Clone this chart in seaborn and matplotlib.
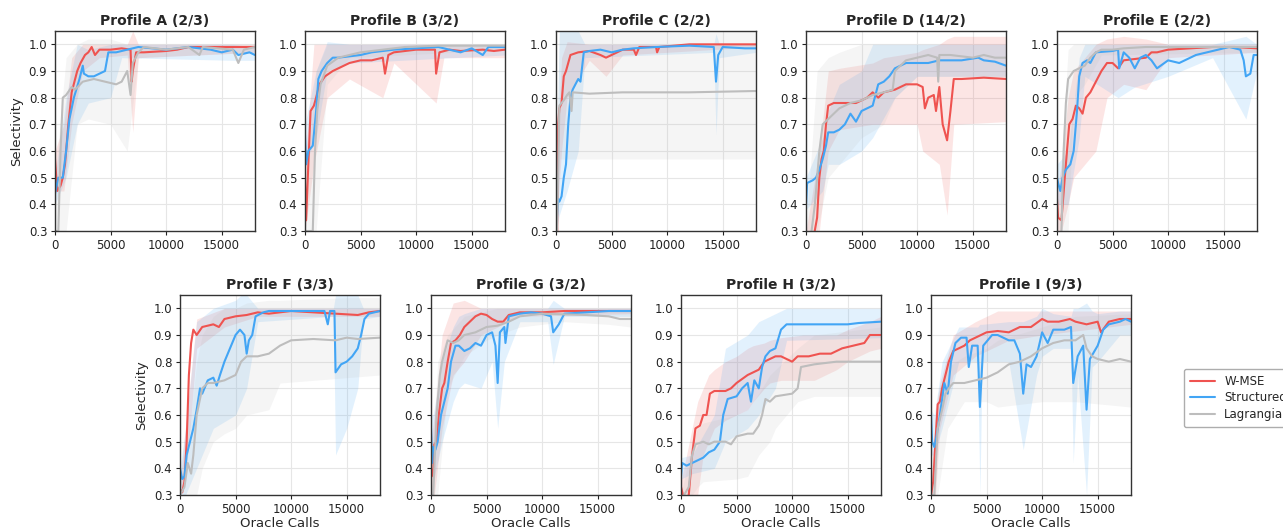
import numpy as np
import pandas as pd
import seaborn as sns
import matplotlib
matplotlib.use("Agg")
import matplotlib.pyplot as plt

# ---- data (x = oracle calls) ----
methods = ["W-MSE", "Structured", "Lagrangian"]
colors = {"W-MSE": "#ef5350", "Structured": "#42a5f5", "Lagrangian": "#bdbdbd"}
titles = ["Profile A (2/3)", "Profile B (3/2)", "Profile C (2/2)", "Profile D (14/2)",
          "Profile E (2/2)", "Profile F (3/3)", "Profile G (3/2)", "Profile H (3/2)",
          "Profile I (9/3)"]
x_ticks = [0, 5000, 10000, 15000]
y_ticks = [0.3, 0.4, 0.5, 0.6, 0.7, 0.8, 0.9, 1.0]

# mean curves: (calls, selectivity); bands: (calls, low, high)
A_WMSE = [(0, .57), (200, .45), (500, .47), (700, .50), (900, .55), (1200, .70), (1500, .82), (2000, .90),
          (2300, .93), (2700, .96), (3000, .97), (3300, .99), (3600, .96), (4000, .98), (5000, .98),
          (6000, .985), (6800, .98), (6900, .86), (7000, .90), (7300, .97), (8000, .97), (10000, .975),
          (11000, .98), (12000, .99), (15000, .99), (18000, .99)]
A_WMSE_BAND = [(0, .45, .60), (800, .45, .70), (1500, .70, .95), (2500, .90, 1.0), (4000, .95, 1.0),
               (6500, .96, 1.0), (7000, .67, 1.05), (7500, .95, 1.0), (18000, .97, 1.0)]
A_STRUCT = [(0, .44), (300, .50), (700, .50), (1000, .60), (1300, .72), (1700, .80), (2200, .87),
            (2500, .92), (2600, .89), (3000, .88), (3500, .88), (4000, .89), (4500, .90), (4800, .97),
            (5500, .97), (6500, .98), (7500, .99), (10000, .98), (12000, .99), (14000, .98), (15000, .97),
            (16000, .98), (16500, .96), (17500, .97), (18000, .96)]
A_STRUCT_BAND = [(0, .40, .50), (1000, .50, .80), (2000, .70, 1.0), (3000, .78, .98), (5000, .80, 1.0),
                 (6000, .95, 1.0), (16000, .94, 1.0), (18000, .94, .99)]
A_LAGR = [(0, .30), (300, .30), (500, .60), (700, .80), (1000, .81), (1500, .84), (1800, .83), (2500, .86),
          (3500, .87), (4500, .86), (5500, .85), (6000, .86), (6500, .90), (6800, .81), (7000, .93),
          (7500, .97), (8000, .99), (10000, .98), (12000, .99), (13000, .96), (13300, .99), (16000, .98),
          (16500, .93), (17000, .98), (18000, .99)]
A_LAGR_BAND = [(0, .30, .50), (1000, .30, .95), (2000, .70, 1.0), (3000, .72, 1.02), (5000, .70, 1.02),
               (6500, .60, 1.0), (7500, .95, 1.0), (18000, .97, 1.0)]

B_WMSE = [(0, .49), (100, .34), (300, .55), (500, .75), (800, .77), (1000, .80), (1300, .85), (1800, .88),
          (2500, .90), (3000, .91), (4000, .93), (5000, .94), (6000, .94), (7000, .95), (7200, .89),
          (7500, .96), (8000, .97), (10000, .98), (11700, .98), (11800, .89), (12100, .97), (13000, .98),
          (14000, .975), (16000, .98), (17000, .975), (18000, .98)]
B_WMSE_BAND = [(0, .30, .55), (800, .55, 1.0), (2000, .80, 1.0), (4000, .87, 1.0), (7000, .80, 1.0),
               (8000, .93, 1.0), (11800, .78, 1.0), (12500, .95, 1.0), (18000, .95, 1.0)]
B_STRUCT = [(0, .66), (100, .55), (300, .60), (700, .62), (1000, .75), (1200, .87), (1500, .90),
            (2000, .93), (2500, .95), (3000, .95), (5000, .96), (6000, .97), (8000, .98), (10000, .985),
            (12000, .99), (13000, .98), (14000, .97), (15000, .985), (16000, .96), (16500, .99), (18000, .99)]
B_STRUCT_BAND = [(0, .55, .70), (1000, .65, .90), (2000, .90, 1.01), (4000, .93, 1.0), (18000, .96, 1.0)]
B_LAGR = [(0, .30), (700, .30), (900, .60), (1100, .75), (1400, .85), (2000, .92), (3000, .95),
          (5000, .97), (7000, .98), (9000, .99), (12000, .995), (18000, .995)]
B_LAGR_BAND = [(0, .30, .40), (1000, .30, .90), (2000, .85, 1.0), (4000, .95, 1.0), (18000, .98, 1.0)]

C_WMSE = [(0, .42), (100, .30), (200, .70), (300, .76), (500, .78), (700, .88), (900, .90), (1100, .93),
          (1300, .96), (2000, .97), (3000, .975), (4000, .96), (4500, .95), (5000, .96), (5500, .97),
          (6000, .98), (7000, .98), (7200, .96), (7500, .99), (9000, .99), (9100, .97), (9300, .99),
          (12000, 1.0), (18000, 1.0)]
C_WMSE_BAND = [(0, .30, .50), (500, .60, .95), (1000, .80, 1.01), (3000, .94, 1.0), (4500, .88, 1.0),
               (6000, .96, 1.0), (18000, .99, 1.0)]
C_STRUCT = [(0, .30), (200, .42), (300, .41), (500, .43), (700, .50), (900, .55), (1100, .70),
            (1300, .80), (1500, .83), (2000, .87), (2200, .86), (2500, .97), (3000, .975), (4000, .98),
            (5000, .97), (6000, .98), (7000, .985), (9000, .99), (12000, .995), (14200, .99), (14400, .86),
            (14600, .96), (15000, .99), (17000, .985), (18000, .985)]
C_STRUCT_BAND = [(0, .30, .45), (300, .36, 1.05), (1000, .45, 1.05), (2000, .60, 1.05), (2600, .95, 1.0),
                 (14200, .97, 1.0), (14400, .66, 1.04), (14700, .95, 1.0), (18000, .97, 1.0)]
C_LAGR = [(0, .30), (100, .30), (300, .77), (500, .78), (700, .79), (1000, .81), (1200, .82),
          (1400, .75), (1500, .82), (3000, .815), (6000, .82), (12000, .82), (18000, .825)]
C_LAGR_BAND = [(0, .30, .50), (300, .57, 1.05), (18000, .57, 1.05)]

D_WMSE = [(0, .25), (700, .28), (1000, .35), (1200, .50), (1400, .57), (1600, .60), (1800, .70),
          (2000, .77), (2500, .78), (4500, .78), (5500, .80), (6000, .82), (6500, .80), (7000, .82),
          (8000, .83), (9000, .85), (10000, .85), (10500, .84), (10700, .76), (11000, .80), (11500, .81),
          (11700, .75), (12000, .84), (12300, .70), (12700, .64), (13000, .75), (13300, .87), (14000, .87),
          (16000, .875), (18000, .87)]
D_WMSE_BAND = [(0, .25, .30), (1200, .30, .60), (2000, .60, .90), (3000, .68, .91), (6000, .70, .93),
               (7000, .70, .95), (10000, .70, .97), (10500, .60, .98), (12000, .55, 1.0), (12700, .36, 1.02),
               (13300, .70, 1.03), (18000, .71, 1.03)]
D_STRUCT = [(0, .40), (100, .48), (600, .49), (900, .50), (1200, .53), (1500, .57), (1800, .62),
            (2000, .67), (2500, .67), (3000, .68), (3500, .70), (4000, .74), (4500, .71), (5000, .75),
            (6000, .77), (6500, .85), (7000, .86), (7500, .88), (8000, .91), (9000, .93), (11000, .93),
            (12000, .94), (14000, .94), (15500, .95), (16000, .94), (17000, .935), (18000, .92)]
D_STRUCT_BAND = [(0, .38, .50), (1500, .45, .65), (2000, .55, .75), (3000, .55, .85), (5000, .60, .90),
                 (6000, .65, 1.0), (8000, .80, 1.0), (10000, .88, 1.0), (18000, .88, 1.0)]
D_LAGR = [(0, .28), (500, .30), (800, .40), (1200, .60), (1500, .70), (2000, .72), (3000, .76),
          (4000, .78), (5000, .79), (6000, .81), (7000, .82), (7800, .83), (8000, .90), (9000, .94),
          (10000, .95), (11000, .96), (11800, .95), (11900, .86), (12000, .96), (13000, .96), (15000, .95),
          (16000, .96), (17000, .95), (18000, .95)]
D_LAGR_BAND = [(0, .28, .30), (1000, .30, .90), (2000, .50, .95), (3000, .55, .97), (5000, .65, 1.0),
               (7000, .70, 1.0), (8000, .80, 1.0), (10000, .88, 1.0), (18000, .88, 1.0)]

E_WMSE = [(0, .42), (100, .35), (400, .34), (700, .50), (900, .60), (1100, .70), (1400, .72), (1700, .77),
          (2000, .76), (2300, .74), (2600, .80), (3000, .82), (3500, .86), (4000, .90), (4500, .93),
          (5000, .93), (5500, .91), (6000, .94), (8000, .95), (8500, .97), (9000, .97), (10000, .98),
          (12000, .985), (14000, .99), (16000, .99), (18000, .985)]
E_WMSE_BAND = [(0, .30, .45), (400, .30, .55), (1000, .40, .80), (1500, .50, .90), (2500, .55, .95),
               (3500, .60, 1.0), (4500, .80, 1.02), (6000, .85, 1.03), (8000, .83, 1.02), (10000, .95, 1.0),
               (18000, .97, 1.0)]
E_STRUCT = [(0, .50), (100, .48), (300, .45), (500, .50), (800, .53), (1200, .55), (1500, .60),
            (1800, .75), (2000, .88), (2300, .93), (2700, .94), (3000, .93), (3500, .97), (5000, .975),
            (5500, .98), (5600, .91), (6000, .97), (6500, .95), (7000, .91), (7500, .95), (8000, .96),
            (8500, .94), (9000, .91), (10000, .94), (11000, .93), (12000, .95), (12500, .96), (13500, .97),
            (14500, .98), (15500, .99), (16500, .98), (16800, .94), (17000, .88), (17400, .89), (17700, .96),
            (18000, .96)]
E_STRUCT_BAND = [(0, .40, .55), (1000, .40, .60), (2000, .65, .95), (2500, .88, 1.0), (5500, .80, 1.0),
                 (7000, .84, 1.0), (10000, .88, 1.0), (14000, .95, 1.0), (17000, .72, 1.03), (18000, .90, 1.0)]
E_LAGR = [(0, .28), (400, .30), (600, .60), (800, .78), (1000, .87), (1500, .90), (2000, .91),
          (2500, .92), (3000, .95), (3500, .97), (4000, .98), (5000, .98), (6000, .985), (8000, .99),
          (18000, .99)]
E_LAGR_BAND = [(0, .28, .30), (1000, .30, .98), (1500, .80, 1.0), (2500, .85, 1.0), (4000, .96, 1.0),
               (18000, .97, 1.0)]

F_WMSE = [(0, .32), (200, .31), (400, .35), (600, .50), (800, .75), (1000, .87), (1200, .92), (1500, .90),
          (2000, .93), (3000, .94), (3500, .93), (4000, .96), (5000, .97), (6000, .975), (7000, .985),
          (8000, .98), (10000, .99), (12000, .985), (14000, .98), (16000, .975), (17000, .985), (18000, .99)]
F_WMSE_BAND = [(0, .30, .35), (600, .40, .60), (1500, .85, .96), (4000, .93, 1.0), (7000, .97, 1.0),
               (18000, .97, 1.0)]
F_STRUCT = [(0, .40), (200, .36), (400, .37), (600, .45), (900, .50), (1200, .55), (1500, .62),
            (1800, .70), (2000, .68), (2500, .73), (3000, .74), (3300, .71), (3600, .75), (4000, .80),
            (4500, .85), (5000, .90), (5400, .92), (5800, .90), (6000, .83), (6200, .88), (6500, .90),
            (6800, .97), (7500, .985), (8000, .99), (13000, .99), (13300, .94), (13500, .99), (13900, .99),
            (14000, .76), (14500, .79), (15000, .80), (15500, .82), (16000, .85), (16300, .90), (16600, .96),
            (17000, .98), (18000, .99)]
F_STRUCT_BAND = [(0, .30, .40), (500, .30, .55), (1500, .40, .95), (3000, .55, 1.0), (5000, .60, 1.03),
                 (5500, .65, 1.05), (6000, .70, 1.05), (7000, .95, 1.0), (13800, .97, 1.0), (14000, .45, 1.05),
                 (15000, .55, 1.05), (16000, .70, 1.05), (16500, .96, 1.0), (18000, .97, 1.0)]
F_LAGR = [(0, .30), (400, .33), (700, .42), (1000, .38), (1200, .45), (1500, .60), (2000, .70),
          (2500, .72), (3000, .72), (4000, .73), (5000, .75), (5500, .80), (6000, .82), (7000, .82),
          (8000, .83), (9000, .86), (10000, .88), (12000, .885), (14000, .88), (15000, .89), (16000, .885),
          (18000, .89)]
F_LAGR_BAND = [(0, .30, .35), (1000, .30, .60), (1500, .30, .80), (2000, .40, .90), (3000, .50, .97),
               (4000, .53, 1.0), (5000, .55, 1.0), (6000, .60, 1.02), (8000, .62, 1.03), (9000, .72, 1.03),
               (15000, .74, 1.04), (18000, .75, 1.04)]

G_WMSE = [(0, .40), (200, .37), (300, .49), (500, .50), (700, .60), (1000, .70), (1200, .72), (1500, .80),
          (1800, .87), (2200, .88), (2600, .90), (3000, .93), (3500, .95), (4000, .97), (4500, .98),
          (5000, .975), (5500, .96), (6000, .95), (6500, .95), (7000, .975), (8000, .985), (10000, .985),
          (12000, .99), (18000, .99)]
G_WMSE_BAND = [(0, .30, .50), (300, .30, .60), (1000, .55, .90), (2000, .75, 1.02), (3000, .80, 1.03),
               (4500, .90, 1.0), (6000, .93, 1.0), (8000, .97, 1.0), (18000, .98, 1.0)]
G_STRUCT = [(0, .55), (100, .42), (200, .48), (400, .47), (600, .50), (900, .60), (1200, .65), (1500, .70),
            (1800, .80), (2200, .86), (2500, .86), (3000, .84), (3500, .85), (4000, .87), (4500, .86),
            (5000, .90), (5500, .91), (5800, .86), (6000, .72), (6200, .91), (6600, .93), (6700, .87),
            (7000, .97), (8000, .98), (9000, .985), (10000, .98), (10800, .97), (11000, .91), (11500, .94),
            (12000, .98), (14000, .985), (16000, .99), (18000, .99)]
G_STRUCT_BAND = [(0, .40, .60), (200, .35, .60), (1000, .50, .80), (2000, .65, .93), (2500, .70, .97),
                 (3000, .72, .98), (4500, .70, 1.0), (5500, .80, 1.0), (6000, .55, 1.0), (6600, .80, 1.0),
                 (8000, .95, 1.0), (10500, .95, 1.0), (11000, .79, 1.03), (12000, .97, 1.0), (18000, .97, 1.0)]
G_LAGR = [(0, .30), (200, .30), (500, .60), (800, .75), (1000, .80), (1500, .88), (2000, .87),
          (2500, .88), (3000, .90), (4000, .91), (5000, .93), (6000, .935), (7000, .95), (8000, .97),
          (10000, .98), (14000, .975), (16000, .97), (17000, .96), (18000, .96)]
G_LAGR_BAND = [(0, .30, .35), (600, .30, .80), (1500, .70, .90), (3000, .82, .97), (5000, .88, .99),
               (6000, .90, 1.0), (8000, .93, 1.0), (12000, .95, 1.0), (16000, .94, 1.0), (18000, .93, 1.0)]

H_WMSE = [(0, .33), (300, .28), (700, .30), (1000, .45), (1300, .55), (1700, .56), (2000, .60),
          (2300, .60), (2600, .68), (3000, .69), (4000, .69), (4500, .70), (5000, .72), (6000, .75),
          (6500, .76), (7000, .77), (7500, .80), (8000, .81), (8500, .82), (9000, .82), (9500, .81),
          (10000, .80), (10500, .82), (11500, .82), (12500, .83), (13500, .83), (14500, .85), (15500, .86),
          (16500, .87), (17000, .90), (18000, .90)]
H_WMSE_BAND = [(0, .28, .35), (1500, .30, .65), (2000, .45, .70), (2500, .50, .75), (3000, .55, .77),
               (4000, .58, .80), (5000, .60, .82), (6000, .62, .85), (6500, .65, .86), (7500, .70, .87),
               (8000, .72, .88), (9000, .73, .89), (11000, .73, .90), (12000, .73, .90), (14000, .77, .90),
               (15000, .80, .92), (17000, .84, .95), (18000, .85, .97)]
H_STRUCT = [(0, .37), (100, .42), (500, .41), (1000, .42), (1500, .43), (2000, .44), (2500, .46),
            (3000, .47), (3500, .50), (3800, .60), (4200, .66), (5000, .67), (5500, .70), (6000, .72),
            (6300, .65), (6600, .73), (7000, .70), (7300, .78), (7600, .82), (8000, .84), (8500, .85),
            (9000, .92), (9500, .94), (10000, .94), (15000, .94), (16000, .945), (18000, .95)]
H_STRUCT_BAND = [(0, .36, .44), (1000, .38, .45), (3000, .40, .60), (4000, .50, .85), (6000, .55, .90),
                 (7000, .60, .95), (8500, .70, .98), (9500, .88, 1.0), (18000, .89, 1.0)]
H_LAGR = [(0, .28), (700, .33), (1000, .45), (1300, .49), (2000, .50), (2500, .49), (3000, .50),
          (4000, .50), (4500, .49), (5000, .52), (6000, .53), (6500, .53), (7000, .56), (7300, .60),
          (7600, .66), (8000, .65), (8500, .67), (10000, .68), (10500, .70), (10800, .78), (12000, .79),
          (14000, .80), (18000, .80)]
H_LAGR_BAND = [(0, .28, .30), (1000, .30, .50), (1500, .33, .55), (2000, .35, .57), (5000, .36, .60),
               (6000, .37, .62), (7000, .45, .68), (8000, .50, .75), (8500, .55, .77), (10500, .65, .85),
               (12000, .67, .90), (18000, .67, .93)]

I_WMSE = [(0, .30), (200, .35), (400, .50), (600, .64), (800, .65), (1000, .70), (1300, .75), (1600, .80),
          (2000, .84), (2500, .85), (3000, .86), (3500, .88), (4000, .89), (5000, .91), (6000, .915),
          (7000, .91), (8000, .93), (9000, .93), (10000, .96), (10500, .95), (11500, .95), (12500, .96),
          (13000, .95), (14000, .94), (15000, .95), (15300, .91), (16000, .95), (17000, .96), (18000, .96)]
I_WMSE_BAND = [(0, .28, .35), (400, .30, .60), (800, .55, .72), (2000, .75, .90), (4000, .82, .95),
               (6000, .86, .99), (7000, .88, .99), (10000, .90, .99), (14000, .92, .99), (18000, .94, .99)]
I_STRUCT = [(0, .60), (100, .50), (300, .48), (500, .52), (800, .60), (1200, .72), (1500, .68), (1800, .80),
            (2200, .87), (2700, .89), (3200, .89), (3400, .78), (3700, .86), (4200, .86), (4400, .63),
            (4700, .86), (5500, .90), (6000, .90), (7000, .88), (7500, .88), (8000, .83), (8300, .68),
            (8600, .79), (9000, .78), (9500, .82), (10000, .91), (10500, .87), (11000, .92), (12000, .92),
            (12600, .93), (12800, .72), (13200, .82), (13700, .86), (14000, .62), (14300, .81), (15000, .86),
            (15500, .92), (16000, .94), (17000, .95), (17500, .96), (18000, .95)]
I_STRUCT_BAND = [(0, .45, .62), (300, .45, .60), (1000, .55, .80), (2500, .80, .93), (4200, .80, .93),
                 (4400, .30, .94), (4600, .80, .94), (7000, .80, .95), (8300, .47, .95), (9500, .75, .97),
                 (10000, .82, 1.0), (11000, .85, .98), (12600, .85, .97), (12800, .42, 1.0), (13200, .75, 1.0),
                 (14000, .30, 1.02), (14500, .78, .99), (15000, .80, .98), (17000, .90, .99), (18000, .90, .99)]
I_LAGR = [(0, .30), (300, .30), (600, .55), (1000, .62), (1300, .68), (1600, .70), (2000, .72), (3000, .72),
          (4000, .73), (5000, .74), (6000, .76), (7000, .79), (8000, .80), (9000, .82), (10000, .85),
          (11000, .87), (12000, .88), (13000, .88), (13700, .90), (14000, .85), (14500, .82), (15000, .81),
          (16000, .80), (17000, .81), (18000, .80)]
I_LAGR_BAND = [(0, .28, .32), (600, .30, .68), (1500, .55, .78), (3000, .65, .82), (5000, .65, .85),
               (6000, .63, .88), (10000, .65, .93), (13000, .65, .97), (18000, .63, .98)]

panel_means = [
    (A_WMSE, A_STRUCT, A_LAGR), (B_WMSE, B_STRUCT, B_LAGR), (C_WMSE, C_STRUCT, C_LAGR),
    (D_WMSE, D_STRUCT, D_LAGR), (E_WMSE, E_STRUCT, E_LAGR), (F_WMSE, F_STRUCT, F_LAGR),
    (G_WMSE, G_STRUCT, G_LAGR), (H_WMSE, H_STRUCT, H_LAGR), (I_WMSE, I_STRUCT, I_LAGR),
]
panel_bands = [
    (A_WMSE_BAND, A_STRUCT_BAND, A_LAGR_BAND), (B_WMSE_BAND, B_STRUCT_BAND, B_LAGR_BAND),
    (C_WMSE_BAND, C_STRUCT_BAND, C_LAGR_BAND), (D_WMSE_BAND, D_STRUCT_BAND, D_LAGR_BAND),
    (E_WMSE_BAND, E_STRUCT_BAND, E_LAGR_BAND), (F_WMSE_BAND, F_STRUCT_BAND, F_LAGR_BAND),
    (G_WMSE_BAND, G_STRUCT_BAND, G_LAGR_BAND), (H_WMSE_BAND, H_STRUCT_BAND, H_LAGR_BAND),
    (I_WMSE_BAND, I_STRUCT_BAND, I_LAGR_BAND),
]

# ---- style ----
sns.set_style("ticks", {"axes.grid": True, "grid.color": "#e6e6e6", "axes.edgecolor": "#333333"})
plt.rcParams["font.family"] = ["DejaVu Sans"]

W, H = 1283, 532
fig = plt.figure(figsize=(W / 100, H / 100), dpi=100)

# axes boxes in pixels: (left, top)
top_row = [(55, 31), (305, 31), (556, 31), (806, 31), (1057, 31)]
bottom_row = [(180, 295), (431, 295), (681, 295), (931, 295)]
box_w, box_h = 200, 200

axes = []
for left, top in top_row + bottom_row:
    axes.append(fig.add_axes([left / W, 1 - (top + box_h) / H, box_w / W, box_h / H]))

for i, ax in enumerate(axes):
    rows = []
    for m, series in zip(methods, panel_means[i]):
        for x, y in series:
            rows.append({"calls": x, "sel": y, "method": m})
    df = pd.DataFrame(rows)

    # bands first (behind lines)
    for m, band in zip(methods, panel_bands[i]):
        b = np.array(band)
        ax.fill_between(b[:, 0], b[:, 1], b[:, 2], color=colors[m], alpha=0.15, linewidth=0)

    sns.lineplot(data=df, x="calls", y="sel", hue="method", palette=colors,
                 estimator=None, sort=False, linewidth=1.5, ax=ax, legend=False)

    ax.set_xlim(0, 18000)
    ax.set_ylim(0.3, 1.05)
    ax.set_xticks(x_ticks)
    ax.set_yticks(y_ticks)
    ax.tick_params(labelsize=8.5, length=3, width=0.8, colors="#222222", pad=2.5)
    ax.set_title(titles[i], fontsize=10, fontweight="bold", pad=4)
    ax.grid(True, color="#e6e6e6", linewidth=0.8)
    for sp in ax.spines.values():
        sp.set_color("#333333")
        sp.set_linewidth(1.0)
    ax.set_xlabel("Oracle Calls" if i >= 5 else "", fontsize=9.5, labelpad=1)
    ax.set_ylabel("Selectivity" if i in (0, 5) else "", fontsize=9.5)

handles = [plt.Line2D([], [], color=colors[m], linewidth=1.5) for m in methods]
fig.legend(handles, methods, loc="upper left", bbox_to_anchor=(1184 / W, 1 - 369 / H),
           borderaxespad=0, fontsize=8.5, frameon=True, edgecolor="#999999", fancybox=True,
           borderpad=0.5, handlelength=2.1, labelspacing=0.3)

fig.savefig("out.png", dpi=100)
